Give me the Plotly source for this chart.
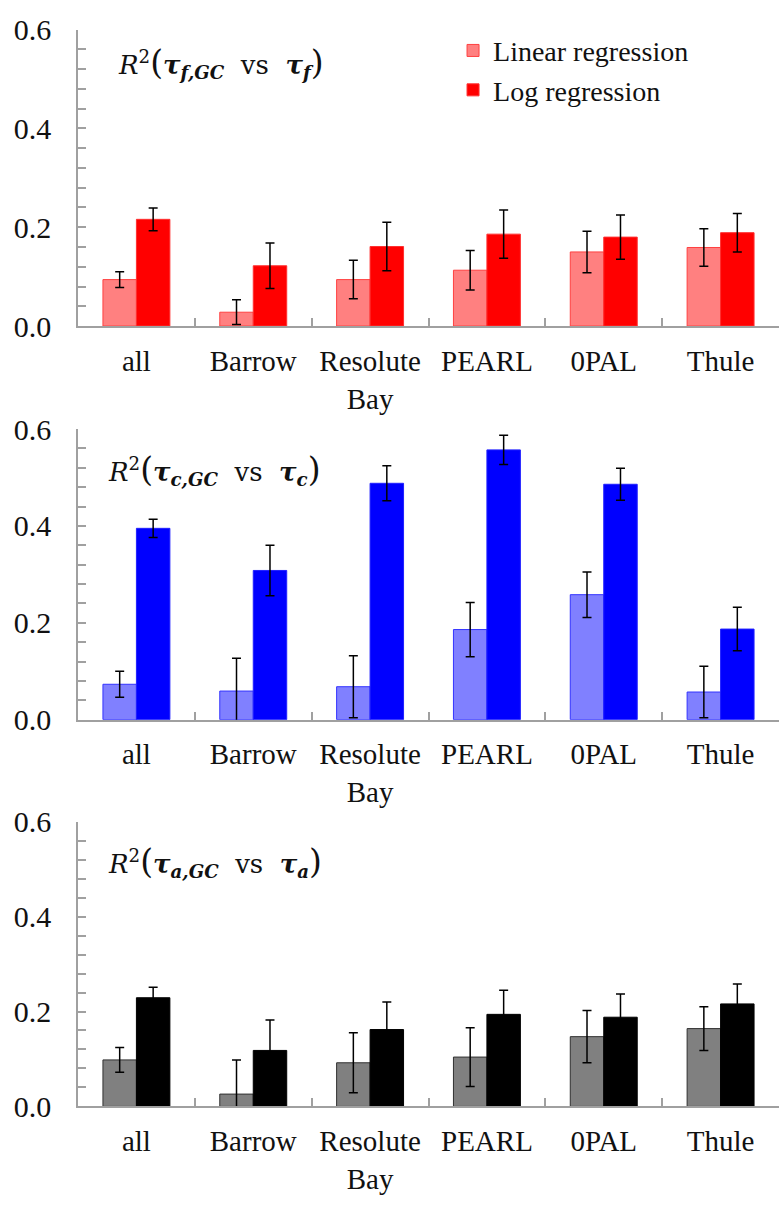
import plotly.graph_objects as go

categories = ["all", "Barrow", "Resolute<br>Bay", "PEARL", "0PAL", "Thule"]

# Panel 1: tau_f
f_lin = [0.094, 0.028, 0.094, 0.113, 0.150, 0.159]
f_lin_err = [0.016, 0.025, 0.039, 0.040, 0.042, 0.038]
f_log = [0.216, 0.122, 0.161, 0.186, 0.180, 0.189]
f_log_err = [0.023, 0.046, 0.049, 0.049, 0.045, 0.039]

# Panel 2: tau_c
c_lin = [0.073, 0.059, 0.068, 0.186, 0.258, 0.057]
c_lin_err = [0.027, 0.068, 0.064, 0.056, 0.047, 0.053]
c_log = [0.395, 0.308, 0.488, 0.557, 0.486, 0.187]
c_log_err = [0.019, 0.052, 0.036, 0.030, 0.033, 0.045]

# Panel 3: tau_a
a_lin = [0.098, 0.026, 0.092, 0.104, 0.147, 0.164]
a_lin_err = [0.026, 0.072, 0.063, 0.062, 0.055, 0.046]
a_log = [0.229, 0.118, 0.162, 0.194, 0.188, 0.216]
a_log_err = [0.022, 0.064, 0.058, 0.051, 0.049, 0.042]

yticks = [0.0, 0.2, 0.4, 0.6]

W, H = 779, 1207
L = 78
PW = W - L
FONT = "Liberation Serif, Times New Roman, Times, serif"

panels = [
    (f_lin, f_lin_err, f_log, f_log_err, "#FF8080", "#FF4040", "#FF0000", "#FF3030", True),
    (c_lin, c_lin_err, c_log, c_log_err, "#8080FF", "#3333FF", "#0000FF", "#2020FF", False),
    (a_lin, a_lin_err, a_log, a_log_err, "#808080", "#303030", "#000000", "#000000", False),
]

# pixel extents (top, bottom) of each plot area
pix = [(13, 318), (424, 723), (828, 1121)]

fig = go.Figure()
for i, (lin, lerr, lg, gerr, c1, o1, c2, o2, show) in enumerate(panels):
    sfx = "" if i == 0 else str(i + 1)
    fig.add_trace(go.Bar(
        x=categories, y=lin, name="Linear regression", showlegend=show,
        marker=dict(color=c1, line=dict(color=o1, width=1)),
        error_y=dict(type="data", array=lerr, color="black", thickness=1.5, width=4.5),
        xaxis="x" + sfx, yaxis="y" + sfx, offsetgroup="a"))
    fig.add_trace(go.Bar(
        x=categories, y=lg, name="Log regression", showlegend=show,
        marker=dict(color=c2, line=dict(color=o2, width=1)),
        error_y=dict(type="data", array=gerr, color="black", thickness=1.5, width=4.5),
        xaxis="x" + sfx, yaxis="y" + sfx, offsetgroup="b"))

layout = dict(
    width=W, height=H,
    margin=dict(l=L, r=0, t=0, b=0),
    paper_bgcolor="white", plot_bgcolor="white",
    barmode="group", bargap=0.427, bargroupgap=0,
    font=dict(family=FONT, size=28, color="#111"),
    legend=dict(x=0.535, y=1 - 9 / H, xanchor="left", yanchor="top",
                font=dict(family=FONT, size=28, color="#111"),
                bgcolor="rgba(0,0,0,0)", tracegroupgap=0, itemwidth=30),
)

for i, (top, bot) in enumerate(pix):
    sfx = "" if i == 0 else str(i + 1)
    layout["xaxis" + sfx] = dict(
        domain=[0, 1], anchor="y" + sfx, type="category",
        showline=True, linecolor="#A0A0A0", linewidth=2,
        ticks="inside", tickson="boundaries", ticklen=8, tickcolor="#A0A0A0", tickwidth=1.5,
        tickfont=dict(family=FONT, size=29, color="#111"), ticklabelstandoff=8,
        showgrid=False, range=[-0.5, 5.5], fixedrange=True)
    layout["yaxis" + sfx] = dict(
        domain=[1 - bot / H, 1 - top / H], anchor="x" + sfx,
        range=[0, 0.6], tickvals=yticks, tickformat=".1f",
        showline=True, linecolor="#A0A0A0", linewidth=1.5,
        ticks="inside", ticklen=8, tickcolor="#A0A0A0", tickwidth=1.5,
        minor=dict(ticks="inside", dtick=0.04, ticklen=8, tickcolor="#A0A0A0", tickwidth=1.5),
        tickfont=dict(family=FONT, size=30, color="#111"), ticklabelstandoff=19,
        showgrid=False, zeroline=False)

fig.update_layout(**layout)

labels = [
    ("f", 116, 47),
    ("c", 106, 466),
    ("a", 106, 869),
]
for i, (s, xp, yp) in enumerate(labels):
    txt = (f"<i>R</i><sup>2</sup><span style='font-size:33px'>(</span>"
           f"<b><i>τ</i></b><sub><b><i>{s},GC</i></b></sub>  vs  "
           f"<b><i>τ</i></b><sub><b><i>{s}</i></b></sub>"
           f"<span style='font-size:33px'>)</span>")
    fig.add_annotation(x=(xp - L) / PW, y=1 - yp / H, xref="paper", yref="paper",
                       xanchor="left", yanchor="middle", showarrow=False,
                       text=txt, font=dict(family="DejaVu Serif", size=26, color="#111"))

fig.write_html("out.html")
